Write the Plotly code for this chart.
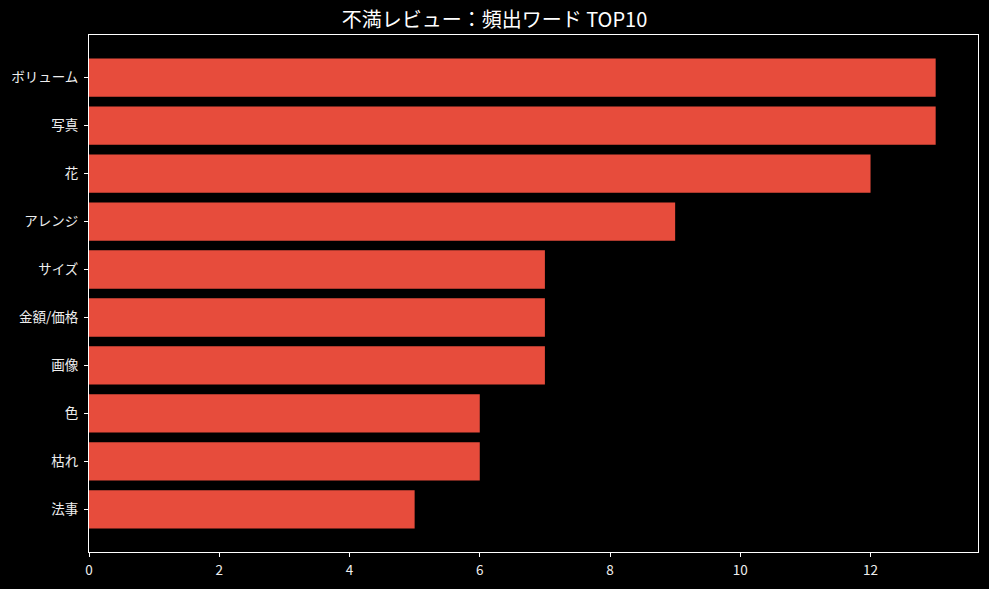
import plotly.graph_objects as go

categories = ["ボリューム", "写真", "花", "アレンジ", "サイズ", "金額/価格", "画像", "色", "枯れ", "法事"]
counts = [13, 13, 12, 9, 7, 7, 7, 6, 6, 5]
title_text = "不満レビュー：頻出ワード TOP10"

fig = go.Figure(go.Bar(
    x=counts, y=categories, orientation="h",
    marker=dict(color="#E74C3C", line=dict(width=0)),
    width=0.8,
))

font_family = "Noto Sans CJK JP, DejaVu Sans, sans-serif"
fig.update_layout(
    width=989, height=589,
    paper_bgcolor="black", plot_bgcolor="black",
    margin=dict(l=89, r=10, t=35, b=34),
    font=dict(family=font_family, color="white", size=13),
    title=dict(text=title_text, x=0.5, xanchor="center", y=1 - 20/589, yanchor="middle",
               font=dict(size=20, color="white", family=font_family)),
    showlegend=False,
    bargap=0.2,
)
fig.update_xaxes(
    range=[0, 13.65], tickvals=[0, 2, 4, 6, 8, 10, 12],
    showgrid=False, zeroline=False,
    showline=True, linecolor="white", linewidth=1, mirror=True,
    ticks="outside", ticklen=4, tickcolor="white",
    tickfont=dict(size=13.5, color="#eeeeee"),
    ticklabelstandoff=2,
)
fig.update_yaxes(
    type="category", categoryorder="array", categoryarray=categories,
    range=[len(categories) - 1 + 0.89, -0.89],
    showgrid=False, zeroline=False,
    showline=True, linecolor="white", linewidth=1, mirror=True,
    ticks="outside", ticklen=4, tickcolor="white",
    tickfont=dict(size=13.5, color="#eeeeee"),
    ticklabelstandoff=3,
)
fig.write_html(
    "out.html",
    config={"displayModeBar": False},
    post_script="document.body.style.margin='0';document.body.style.background='black';document.body.style.overflow='hidden';",
)
